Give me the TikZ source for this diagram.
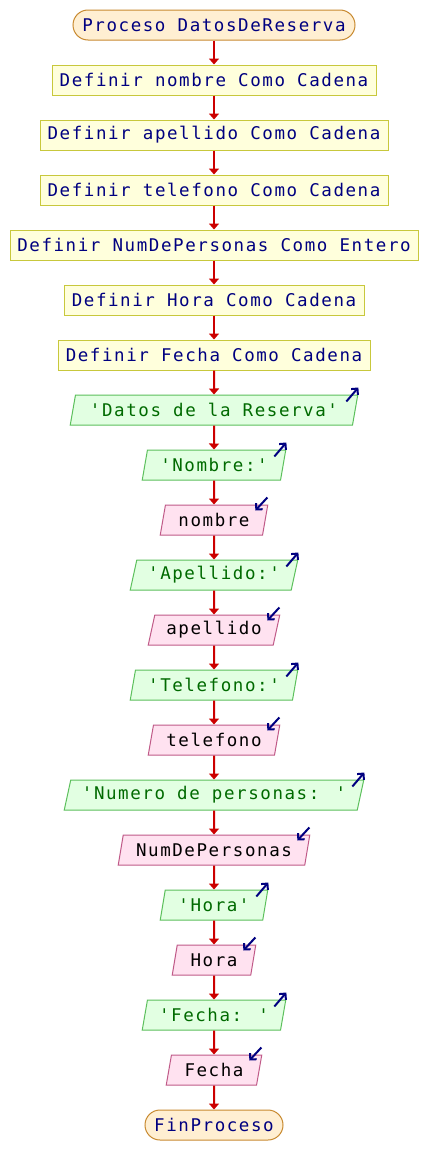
\documentclass[tikz,border=0pt]{standalone}
\usepackage{fontspec}
\usetikzlibrary{shapes.geometric,arrows.meta}
\newfontfamily\fmono[LetterSpace=9]{DejaVu Sans Mono}
\definecolor{termfill}{HTML}{FFEFD2}
\definecolor{termdraw}{HTML}{C88A30}
\definecolor{deffill}{HTML}{FFFFDC}
\definecolor{defdraw}{HTML}{C8C83C}
\definecolor{outfill}{HTML}{E2FFE2}
\definecolor{outdraw}{HTML}{5CC05C}
\definecolor{outtext}{HTML}{006A00}
\definecolor{infill}{HTML}{FFE2F0}
\definecolor{indraw}{HTML}{C05A88}
\definecolor{navytext}{HTML}{000080}
\definecolor{flowred}{HTML}{CC0000}
\definecolor{ioarrow}{HTML}{000080}
\tikzset{
  base/.style={font=\fmono\fontsize{17.5}{20}\selectfont, minimum height=30pt, inner sep=0pt, line width=1pt},
  term/.style={base, rectangle, rounded corners=15pt, draw=termdraw, fill=termfill, text=navytext},
  defbox/.style={base, rectangle, draw=defdraw, fill=deffill, text=navytext},
  para/.style={base, trapezium, trapezium left angle=69, trapezium right angle=111, trapezium stretches body=true},
  outp/.style={para, draw=outdraw, fill=outfill, text=outtext},
  inp/.style={para, draw=indraw, fill=infill, text=black},
  flow/.style={draw=flowred, line width=2pt, -{Triangle[length=6pt,width=10pt]}},
  io/.style={draw=ioarrow, line width=2pt, -{Straight Barb[length=4.5pt,width=9pt]}}
}
\begin{document}
\begin{tikzpicture}[x=1pt,y=-1pt]
\useasboundingbox[fill=white] (0,0) rectangle (428,1175);
\node[term, minimum width=282pt] (n0) at (214,25) {Proceso DatosDeReserva};
\node[defbox, minimum width=324pt] (n1) at (214,80) {Definir nombre Como Cadena};
\node[defbox, minimum width=348pt] (n2) at (214,135) {Definir apellido Como Cadena};
\node[defbox, minimum width=348pt] (n3) at (214,190) {Definir telefono Como Cadena};
\node[defbox, minimum width=408pt] (n4) at (214,245) {Definir NumDePersonas Como Entero};
\node[defbox, minimum width=300pt] (n5) at (214,300) {Definir Hora Como Cadena};
\node[defbox, minimum width=312pt] (n6) at (214,355) {Definir Fecha Como Cadena};
\node[outp, minimum width=287.5pt] (n7) at (214,410) {'Datos de la Reserva'};
\node[outp, minimum width=143.5pt] (n8) at (214,465) {'Nombre:'};
\node[inp, minimum width=107.5pt] (n9) at (214,520) {nombre};
\node[outp, minimum width=167.5pt] (n10) at (214,575) {'Apellido:'};
\node[inp, minimum width=131.5pt] (n11) at (214,630) {apellido};
\node[outp, minimum width=167.5pt] (n12) at (214,685) {'Telefono:'};
\node[inp, minimum width=131.5pt] (n13) at (214,740) {telefono};
\node[outp, minimum width=299.5pt] (n14) at (214,795) {'Numero de personas: '};
\node[inp, minimum width=191.5pt] (n15) at (214,850) {NumDePersonas};
\node[outp, minimum width=107.5pt] (n16) at (214,905) {'Hora'};
\node[inp, minimum width=83.5pt] (n17) at (214,960) {Hora};
\node[outp, minimum width=143.5pt] (n18) at (214,1015) {'Fecha: '};
\node[inp, minimum width=95.5pt] (n19) at (214,1070) {Fecha};
\node[term, minimum width=138pt] (n20) at (214,1125) {FinProceso};
\foreach \a/\b in {0/1,1/2,2/3,3/4,4/5,5/6,6/7,7/8,8/9,9/10,10/11,11/12,12/13,13/14,14/15,15/16,16/17,17/18,18/19,19/20}
  \draw[flow] (n\a.south) -- (n\b.north);
\foreach \n in {7,8,10,12,14,16,18}
  \draw[io] ([shift={(-12,7)}]n\n.top right corner) -- ([shift={(0,-7)}]n\n.top right corner);
\foreach \n in {9,11,13,15,17,19}
  \draw[io] ([shift={(-1,-7)}]n\n.top right corner) -- ([shift={(-13,6)}]n\n.top right corner);
\end{tikzpicture}
\end{document}
